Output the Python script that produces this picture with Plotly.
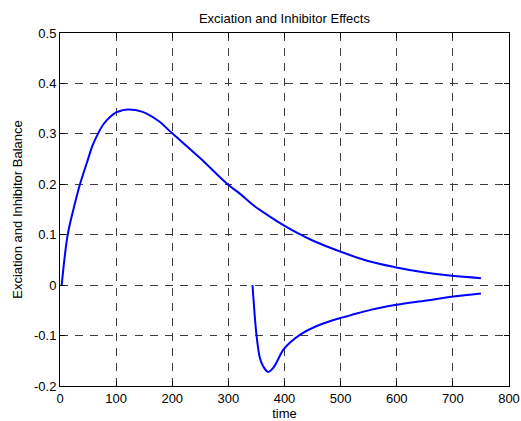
import plotly.graph_objects as go

# Excitation response (positive branch)
exc_time = [3, 13.7, 25, 35.6, 50, 58, 68, 78, 90, 100, 110, 122, 146, 175,
            200, 250, 298, 321, 344, 374, 398, 427, 451, 499, 552, 597, 653,
            698, 750]
exc_value = [0.0, 0.0996, 0.155, 0.200, 0.250, 0.277, 0.301, 0.320, 0.3345,
             0.3425, 0.3465, 0.3485, 0.344, 0.326, 0.301, 0.2515, 0.2006,
             0.181, 0.159, 0.136, 0.119, 0.101, 0.0880, 0.0666, 0.0468,
             0.0356, 0.0245, 0.0184, 0.0139]

# Inhibitor response (negative branch)
inh_time = [343, 350.4, 356.3, 362, 371, 380, 398, 410, 428, 463, 499, 517,
            553, 600, 653, 700, 750]
inh_value = [0.0, -0.102, -0.145, -0.161, -0.172, -0.164, -0.128, -0.1137,
             -0.098, -0.0786, -0.0653, -0.060, -0.049, -0.039, -0.0305,
             -0.0226, -0.0166]

x_ticks = [0, 100, 200, 300, 400, 500, 600, 700, 800]
x_tick_text = ["0", "100", "200", "300", "400", "500", "600", "700", "800"]
y_ticks = [-0.2, -0.1, 0.0, 0.1, 0.2, 0.3, 0.4, 0.5]
y_tick_text = ["-0.2", "-0.1", "0", "0.1", "0.2", "0.3", "0.4", "0.5"]

FONT = "Liberation Sans, Arial, Helvetica, sans-serif"
FONT_SIZE = 13
line_style = dict(color="#0000FF", width=2, shape="spline", smoothing=1.0)

fig = go.Figure()
fig.add_trace(go.Scatter(x=exc_time, y=exc_value, mode="lines", line=line_style,
                         showlegend=False, hoverinfo="skip"))
fig.add_trace(go.Scatter(x=inh_time, y=inh_value, mode="lines", line=line_style,
                         showlegend=False, hoverinfo="skip"))

axis_common = dict(
    showline=True, linecolor="black", linewidth=1, mirror="allticks",
    ticks="inside", ticklen=5, tickcolor="black", tickwidth=1,
    showgrid=True, gridcolor="#3c3c3c", gridwidth=1, griddash="7.5px,7.5px",
    zeroline=False, automargin=False,
    tickfont=dict(family=FONT, size=FONT_SIZE, color="black"),
)

fig.update_xaxes(range=[0, 800], tickvals=x_ticks, ticktext=x_tick_text,
                 title=dict(text="time", standoff=4,
                            font=dict(family=FONT, size=FONT_SIZE, color="black")),
                 **axis_common)
fig.update_yaxes(range=[-0.2, 0.5], tickvals=y_ticks, ticktext=y_tick_text,
                 title=dict(text="Exciation and Inhibitor Balance", standoff=8,
                            font=dict(family=FONT, size=FONT_SIZE, color="black")),
                 **axis_common)

fig.update_layout(
    width=521, height=421,
    margin=dict(l=60, r=12, t=33, b=35, autoexpand=False),
    paper_bgcolor="white", plot_bgcolor="white",
    title=dict(text="Exciation and Inhibitor Effects", x=0.546, xanchor="center",
               y=1 - 18 / 421, yanchor="middle", yref="container",
               font=dict(family=FONT, size=FONT_SIZE, color="black")),
)

fig.write_html("out.html")
